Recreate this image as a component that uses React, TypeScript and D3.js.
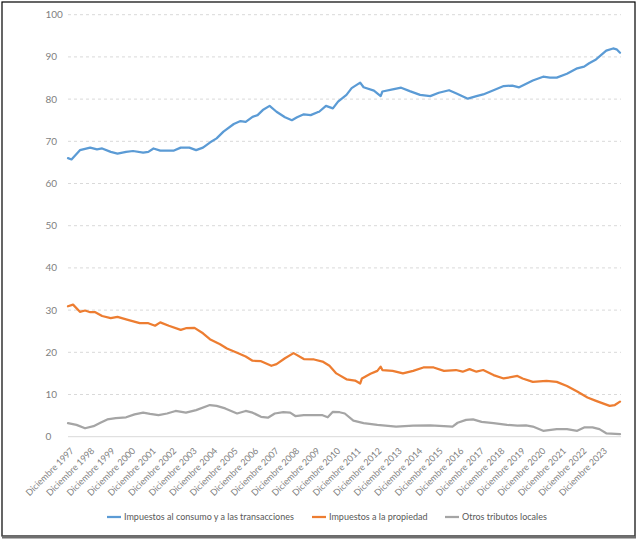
import { useEffect, useRef } from 'react';
import * as d3 from 'd3';

// series readings: month ("YYYY-MM") and percentage share
const consumoMeses = [
  '1997-12', '1998-02', '1998-07', '1999-01', '1999-05', '1999-08', '2000-01', '2000-05', '2000-10', '2001-02',
  '2001-08', '2001-11', '2002-02', '2002-06', '2003-02', '2003-06', '2003-11', '2004-03', '2004-07', '2004-11',
  '2005-03', '2005-07', '2006-01', '2006-05', '2006-08', '2006-12', '2007-03', '2007-06', '2007-10', '2008-02',
  '2008-07', '2008-11', '2009-02', '2009-06', '2009-10', '2010-02', '2010-03', '2010-07', '2010-11', '2011-02',
  '2011-07', '2011-10', '2012-03', '2012-05', '2012-11', '2013-03', '2013-04', '2013-10', '2014-03', '2014-08',
  '2015-02', '2015-08', '2016-01', '2016-07', '2016-11', '2017-06', '2017-11', '2018-03', '2018-09', '2019-03',
  '2019-08', '2019-12', '2020-03', '2020-08', '2021-02', '2021-06', '2021-10', '2022-04', '2022-10', '2023-02',
  '2023-05', '2023-09', '2024-03', '2024-07', '2024-09', '2024-11'
];
const consumoValores = [
  66.0, 65.7, 67.9, 68.5, 68.1, 68.3, 67.5, 67.1, 67.5, 67.7,
  67.3, 67.5, 68.3, 67.8, 67.8, 68.5, 68.5, 67.9, 68.5, 69.7,
  70.7, 72.3, 74.1, 74.8, 74.6, 75.8, 76.2, 77.4, 78.4, 77.0,
  75.7, 75.0, 75.7, 76.4, 76.2, 76.9, 77.0, 78.4, 77.8, 79.4,
  81.0, 82.6, 83.9, 82.8, 82.0, 80.7, 81.8, 82.3, 82.7, 81.9,
  81.0, 80.7, 81.5, 82.1, 81.4, 80.1, 80.7, 81.1, 82.1, 83.1,
  83.2, 82.8, 83.4, 84.4, 85.3, 85.1, 85.1, 86.0, 87.3, 87.7,
  88.5, 89.4, 91.5, 92.0, 91.8, 91.0
];

const propiedadMeses = [
  '1997-12', '1998-03', '1998-07', '1998-10', '1999-01', '1999-04', '1999-08', '2000-01', '2000-05', '2000-11',
  '2001-06', '2001-11', '2002-03', '2002-06', '2002-11', '2003-06', '2003-09', '2004-02', '2004-07', '2004-11',
  '2005-05', '2005-09', '2006-03', '2006-08', '2006-12', '2007-05', '2007-11', '2008-02', '2008-07', '2008-12',
  '2009-06', '2009-12', '2010-05', '2010-09', '2011-01', '2011-07', '2011-12', '2012-03', '2012-04', '2012-09',
  '2013-01', '2013-03', '2013-04', '2013-10', '2014-04', '2014-10', '2015-04', '2015-10', '2016-04', '2016-11',
  '2017-03', '2017-07', '2017-11', '2018-03', '2018-09', '2019-03', '2019-11', '2020-02', '2020-08', '2021-04',
  '2021-10', '2022-04', '2022-10', '2023-04', '2023-09', '2024-05', '2024-08', '2024-11'
];
const propiedadValores = [
  30.9, 31.3, 29.6, 29.9, 29.5, 29.5, 28.6, 28.1, 28.4, 27.7,
  26.9, 26.9, 26.3, 27.1, 26.3, 25.3, 25.7, 25.8, 24.5, 23.1,
  21.9, 20.9, 19.9, 19.0, 18.0, 17.9, 16.8, 17.2, 18.6, 19.8,
  18.4, 18.3, 17.8, 16.8, 15.0, 13.6, 13.3, 12.6, 13.8, 14.9,
  15.6, 16.6, 15.8, 15.6, 15.0, 15.6, 16.4, 16.4, 15.6, 15.8,
  15.4, 16.0, 15.4, 15.8, 14.6, 13.8, 14.4, 13.8, 13.0, 13.2,
  13.0, 12.0, 10.7, 9.3, 8.5, 7.3, 7.5, 8.3
];

const otrosMeses = [
  '1997-12', '1998-05', '1998-10', '1999-03', '1999-07', '1999-11', '2000-04', '2000-10', '2001-03', '2001-08',
  '2001-12', '2002-05', '2002-10', '2003-03', '2003-09', '2004-03', '2004-11', '2005-03', '2005-08', '2006-03',
  '2006-08', '2006-12', '2007-05', '2007-09', '2008-01', '2008-06', '2008-10', '2009-01', '2009-06', '2009-12',
  '2010-05', '2010-08', '2010-11', '2011-03', '2011-06', '2011-11', '2012-05', '2013-01', '2013-12', '2014-10',
  '2015-08', '2016-04', '2016-09', '2016-12', '2017-05', '2017-09', '2018-02', '2018-09', '2019-05', '2019-11',
  '2020-04', '2020-08', '2021-02', '2021-10', '2022-04', '2022-10', '2023-02', '2023-07', '2023-11', '2024-03',
  '2024-11'
];
const otrosValores = [
  3.2, 2.8, 2.0, 2.5, 3.3, 4.1, 4.4, 4.6, 5.3, 5.7,
  5.4, 5.1, 5.5, 6.1, 5.7, 6.3, 7.5, 7.3, 6.7, 5.5,
  6.1, 5.7, 4.7, 4.5, 5.5, 5.8, 5.7, 4.9, 5.1, 5.1,
  5.1, 4.6, 5.9, 5.8, 5.5, 3.8, 3.2, 2.8, 2.4, 2.6,
  2.7, 2.5, 2.4, 3.3, 4.0, 4.1, 3.5, 3.2, 2.8, 2.6,
  2.7, 2.4, 1.4, 1.8, 1.8, 1.4, 2.2, 2.2, 1.8, 0.8,
  0.6
];

const tickAnios = d3.range(1997, 2024);
const yTicks = [0, 10, 20, 30, 40, 50, 60, 70, 80, 90, 100];

const series = [
  { nombre: 'Impuestos al consumo y a las transacciones', meses: consumoMeses, valores: consumoValores, color: '#5b9bd5' },
  { nombre: 'Impuestos a la propiedad', meses: propiedadMeses, valores: propiedadValores, color: '#ed7d31' },
  { nombre: 'Otros tributos locales', meses: otrosMeses, valores: otrosValores, color: '#a5a5a5' }
];

const W = 640;
const H = 541;
const FONT = 'Lato, "Open Sans", sans-serif';

export default function App() {
  const svgRef = useRef<SVGSVGElement>(null);

  useEffect(() => {
    if (!svgRef.current) return;
    const svg = d3.select(svgRef.current);
    svg.selectAll('*').remove();

    const parse = d3.timeParse('%Y-%m');
    const x = d3.scaleTime()
      .domain([parse('1997-12') as Date, parse('2024-11') as Date])
      .range([68, 620]);
    const y = d3.scaleLinear().domain([0, 100]).range([436.7, 14.7]);

    // chart frame
    svg.append('rect')
      .attr('x', 2).attr('y', 2).attr('width', 633).attr('height', 534)
      .attr('fill', '#fff').attr('stroke', '#000').attr('stroke-width', 1.2);
    svg.append('line')
      .attr('x1', 2).attr('x2', 636).attr('y1', 537).attr('y2', 537)
      .attr('stroke', '#6f6f6f').attr('stroke-width', 3);

    // gridlines
    const grid = svg.append('g');
    grid.selectAll('line')
      .data(yTicks)
      .enter()
      .append('line')
      .attr('x1', 68).attr('x2', 621)
      .attr('y1', d => y(d)).attr('y2', d => y(d))
      .attr('stroke', '#d9d9d9')
      .attr('stroke-width', 1)
      .attr('stroke-dasharray', d => (d === 0 ? null : '3,3'));

    // y labels
    svg.append('g')
      .selectAll('text')
      .data(yTicks)
      .enter()
      .append('text')
      .attr('x', 45.5)
      .attr('y', d => y(d) + 3.5)
      .attr('font-family', FONT)
      .attr('font-size', 10)
      .attr('fill', '#7f7f7f')
      .text(d => d);

    // x labels
    svg.append('g')
      .selectAll('text')
      .data(tickAnios)
      .enter()
      .append('text')
      .attr('transform', d => `translate(${x(parse(`${d}-12`) as Date) + 2},${447}) rotate(-45)`)
      .attr('text-anchor', 'end')
      .attr('dy', '0.7em')
      .attr('font-family', FONT)
      .attr('font-size', 9)
      .attr('fill', '#808080')
      .text(d => `Diciembre ${d}`);

    // lines
    const line = d3.line<[Date, number]>()
      .x(d => x(d[0]))
      .y(d => y(d[1]));

    svg.append('g')
      .selectAll('path')
      .data(series)
      .enter()
      .append('path')
      .attr('d', s => line(s.meses.map((m, i) => [parse(m) as Date, s.valores[i]])))
      .attr('fill', 'none')
      .attr('stroke', s => s.color)
      .attr('stroke-width', 2.25)
      .attr('stroke-linejoin', 'round')
      .attr('stroke-linecap', 'round');

    // legend
    const legendX = [107, 312, 445];
    const legend = svg.append('g')
      .selectAll('g')
      .data(series)
      .enter()
      .append('g')
      .attr('transform', (_, i) => `translate(${legendX[i]},517)`);
    legend.append('line')
      .attr('x1', 0).attr('x2', 14).attr('y1', 0).attr('y2', 0)
      .attr('stroke', s => s.color)
      .attr('stroke-width', 2.25);
    legend.append('text')
      .attr('x', 17)
      .attr('y', 3.2)
      .attr('font-family', FONT)
      .attr('font-size', 9)
      .attr('fill', '#595959')
      .text(s => s.nombre);
  }, []);

  return (
    <svg
      ref={svgRef}
      width={W}
      height={H}
      style={{ position: 'absolute', left: 0, top: 0, background: '#fff' }}
    />
  );
}
